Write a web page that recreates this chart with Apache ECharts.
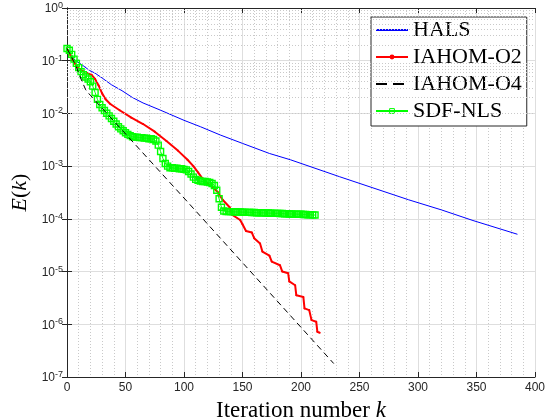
<!DOCTYPE html>
<html>
<head>
<meta charset="utf-8">
<script src="https://cdn.jsdelivr.net/npm/echarts@6/dist/echarts.min.js"></script>
<style>
html, body { margin: 0; padding: 0; background: #fff; }
#main { width: 554px; height: 419px; }
</style>
</head>
<body>
<div id="main"></div>
<script>
// values
var seriesNames = ['HALS', 'IAHOM-O2', 'IAHOM-O4', 'SDF-NLS'];

var halsIter = [0, 3, 7, 13, 19, 24, 30, 38, 47, 56, 65, 80, 100, 114, 131, 150, 173, 191, 233, 292, 320, 347, 385];
var halsErr = [0.17, 0.13, 0.102, 0.083, 0.066, 0.058, 0.047, 0.035, 0.027, 0.020, 0.0158, 0.0115, 0.0074, 0.0056, 0.0039, 0.0027, 0.00174, 0.00132, 6.3e-4, 2.3e-4, 1.48e-4, 9.3e-5, 5.1e-5];

var o2Iter = [0, 4, 8, 12, 16, 21, 24, 27, 30, 33, 37, 45, 55, 65, 75, 85, 95, 103, 108, 112, 116, 120, 125, 129, 133, 139, 141, 148, 150, 153, 158, 160, 165, 167, 173, 175, 182, 184, 189, 190, 195, 196, 202, 203, 207, 209, 213, 214, 216];
var o2Err = [0.17, 0.112, 0.079, 0.066, 0.060, 0.054, 0.045, 0.034, 0.024, 0.0186, 0.0151, 0.0115, 0.0083, 0.0063, 0.0045, 0.0030, 0.00195, 0.00132, 0.0010, 7.6e-4, 5.75e-4, 4.7e-4, 3.9e-4, 3.2e-4, 2.3e-4, 1.66e-4, 1.2e-4, 9.5e-5, 7.9e-5, 5.9e-5, 5.5e-5, 4.3e-5, 3.4e-5, 2.4e-5, 2.0e-5, 1.55e-5, 1.32e-5, 1.0e-5, 9.3e-6, 6.5e-6, 5.5e-6, 3.55e-6, 3.3e-6, 2.0e-6, 1.86e-6, 1.2e-6, 1.12e-6, 7.2e-7, 6.9e-7];

var o4Iter = [0, 4, 8, 12, 16, 20, 103, 228];
var o4Err = [0.17, 0.117, 0.076, 0.045, 0.028, 0.022, 2.1e-4, 1.8e-7];

var sdfIter = [0, 2, 4, 6, 8, 10, 12, 14, 16, 18, 20, 22, 24, 26, 28, 30, 32, 34, 36, 38,
  40, 42, 44, 46, 48, 50, 52, 54, 56, 58, 60, 62, 64, 66, 68, 70, 72, 74, 76, 78,
  80, 82, 84, 86, 88, 90, 92, 94, 96, 98, 100, 102, 104, 106, 108, 110, 112, 114, 116, 118,
  120, 122, 124, 126, 128, 130, 132, 134, 136, 138, 140, 142, 144, 146, 148, 150, 152, 154, 156, 158,
  160, 162, 164, 166, 168, 170, 172, 174, 176, 178, 180, 182, 184, 186, 188, 190, 192, 194, 196, 198,
  200, 202, 204, 206, 208, 210, 212];
var sdfErr = [0.17, 0.158, 0.132, 0.107, 0.089, 0.074, 0.062, 0.054, 0.049, 0.045,
  0.040, 0.033, 0.025, 0.0185, 0.0148, 0.0128, 0.0114, 0.0101, 0.0090, 0.0080,
  0.0071, 0.0063, 0.0056, 0.0051, 0.0047, 0.0043, 0.0040, 0.0038, 0.0036, 0.00355,
  0.00355, 0.00347, 0.00347, 0.0034, 0.0034, 0.0033, 0.0033, 0.0032, 0.0030, 0.0025,
  0.0019, 0.0014, 0.00112, 0.0010, 0.00093, 0.00093, 0.00091, 0.00091, 0.00089, 0.00089,
  0.00087, 0.00085, 0.00079, 0.00071, 0.00062, 0.00056, 0.00054, 0.00052, 0.00051, 0.00051,
  0.00050, 0.00049, 0.00047, 0.00043, 0.00035, 0.00024, 1.66e-4, 1.41e-4, 1.38e-4, 1.37e-4,
  1.37e-4, 1.36e-4, 1.36e-4, 1.35e-4, 1.35e-4, 1.34e-4, 1.34e-4, 1.33e-4, 1.33e-4, 1.32e-4,
  1.32e-4, 1.31e-4, 1.31e-4, 1.30e-4, 1.30e-4, 1.29e-4, 1.29e-4, 1.28e-4, 1.28e-4, 1.27e-4,
  1.27e-4, 1.26e-4, 1.26e-4, 1.25e-4, 1.25e-4, 1.24e-4, 1.24e-4, 1.23e-4, 1.23e-4, 1.22e-4,
  1.22e-4, 1.21e-4, 1.21e-4, 1.20e-4, 1.20e-4, 1.19e-4, 1.18e-4];

var xTicks = [0, 50, 100, 150, 200, 250, 300, 350, 400];
var yDecades = [-7, -6, -5, -4, -3, -2, -1, 0];

function zip(a, b) {
    return a.map(function (v, i) { return [v, b[i]]; });
}

// dotted minor grid of the log axis (2..9 in every decade)
var minorLines = [];
for (var d = yDecades[0]; d < yDecades[yDecades.length - 1]; d++) {
    for (var m = 2; m <= 9; m++) {
        minorLines.push({ yAxis: m * Math.pow(10, d) });
    }
}

var axisColor = '#262626';
var serif = '"Liberation Serif", "DejaVu Serif", serif';
var sans = '"Liberation Sans", Arial, Helvetica, sans-serif';
var noMarker = { opacity: 0, color: 'rgba(0,0,0,0)', borderWidth: 0 };

var myChart = echarts.init(document.getElementById('main'));

var option = {
    animation: false,
    backgroundColor: '#fff',
    grid: {
        left: 67, right: 19, top: 8, bottom: 42,
        outerBoundsMode: 'none'
    },
    legend: {
        data: [
            { name: seriesNames[0], itemStyle: noMarker },
            { name: seriesNames[1] },
            { name: seriesNames[2], itemStyle: noMarker, lineStyle: { type: [11, 6] } },
            { name: seriesNames[3], itemStyle: { borderWidth: 1 } }
        ],
        orient: 'vertical',
        left: 371,
        top: 17,
        padding: [2, 5, 4, 4],
        itemWidth: 32,
        itemHeight: 6,
        itemGap: 5,
        backgroundColor: '#fff',
        borderColor: axisColor,
        borderWidth: 1,
        borderRadius: 0,
        textStyle: { fontFamily: serif, fontSize: 22, color: '#000', lineHeight: 22 }
    },
    xAxis: [{
        type: 'value',
        min: xTicks[0],
        max: xTicks[xTicks.length - 1],
        interval: 50,
        name: '{r|Iteration number }{i|k}',
        nameLocation: 'middle',
        nameGap: 22,
        nameTextStyle: {
            rich: {
                r: { fontFamily: serif, fontSize: 23, color: '#000' },
                i: { fontFamily: serif, fontSize: 23, color: '#000', fontStyle: 'italic' }
            }
        },
        axisLine: { lineStyle: { color: axisColor, width: 1 } },
        axisTick: { inside: true, length: 5, lineStyle: { color: axisColor } },
        axisLabel: { margin: 5, color: axisColor, fontFamily: sans, fontSize: 12 },
        splitLine: { show: true, lineStyle: { color: '#dedede', width: 1 } },
        minorTick: { show: false, splitNumber: 5 },
        minorSplitLine: { show: true, lineStyle: { color: '#c9c9c9', type: [1, 2], width: 1 } }
    }, {
        type: 'value',
        position: 'top',
        min: xTicks[0],
        max: xTicks[xTicks.length - 1],
        interval: 50,
        axisLine: { show: true, lineStyle: { color: axisColor, width: 1 } },
        axisTick: { show: true, inside: true, length: 5, lineStyle: { color: axisColor } },
        axisLabel: { show: false },
        splitLine: { show: false }
    }],
    yAxis: [{
        type: 'log',
        logBase: 10,
        min: Math.pow(10, yDecades[0]),
        max: Math.pow(10, yDecades[yDecades.length - 1]),
        interval: 1,
        name: '{i|E}{r|(}{i|k}{r|)}',
        nameLocation: 'middle',
        nameGap: 34,
        nameRotate: 90,
        nameTextStyle: {
            rich: {
                r: { fontFamily: serif, fontSize: 22, color: '#000' },
                i: { fontFamily: serif, fontSize: 22, color: '#000', fontStyle: 'italic' }
            }
        },
        axisLine: { show: true, lineStyle: { color: axisColor, width: 1 } },
        axisTick: { show: true, inside: true, length: 5, lineStyle: { color: axisColor } },
        axisLabel: {
            margin: 4,
            formatter: function (v) {
                var e = Math.round(Math.log10(v));
                return '{b|10}{s|' + e + '}';
            },
            rich: {
                b: { fontFamily: sans, fontSize: 12, color: axisColor, verticalAlign: 'bottom', lineHeight: 14 },
                s: { fontFamily: sans, fontSize: 9, color: axisColor, verticalAlign: 'top', lineHeight: 9 }
            }
        },
        splitLine: { show: true, lineStyle: { color: '#dedede', width: 1 } }
    }, {
        type: 'log',
        logBase: 10,
        position: 'right',
        min: Math.pow(10, yDecades[0]),
        max: Math.pow(10, yDecades[yDecades.length - 1]),
        interval: 1,
        axisLine: { show: true, lineStyle: { color: axisColor, width: 1 } },
        axisTick: { show: true, inside: true, length: 5, lineStyle: { color: axisColor } },
        axisLabel: { show: false },
        splitLine: { show: false }
    }],
    series: [
        {
            name: 'minor-grid',
            type: 'line',
            z: 1,
            data: [],
            silent: true,
            markLine: {
                silent: true,
                symbol: ['none', 'none'],
                label: { show: false },
                lineStyle: { color: '#c9c9c9', type: [1, 2], width: 1 },
                data: minorLines
            }
        },
        {
            name: 'HALS',
            type: 'line',
            z: 3,
            data: zip(halsIter, halsErr),
            symbol: 'none',
            lineStyle: { color: '#0000ff', width: 1 },
            itemStyle: { color: '#0000ff' }
        },
        {
            name: 'IAHOM-O2',
            type: 'line',
            z: 4,
            data: zip(o2Iter, o2Err),
            symbol: 'circle',
            symbolSize: 2,
            lineStyle: { color: '#ff0000', width: 2 },
            itemStyle: { color: '#ff0000' }
        },
        {
            name: 'IAHOM-O4',
            type: 'line',
            z: 6,
            data: zip(o4Iter, o4Err),
            symbol: 'none',
            lineStyle: { color: '#000', width: 1, type: [6, 4] },
            itemStyle: { color: '#000' }
        },
        {
            name: 'SDF-NLS',
            type: 'line',
            z: 5,
            data: zip(sdfIter, sdfErr),
            symbol: 'rect',
            symbolSize: 6,
            lineStyle: { color: '#00ff00', width: 1 },
            itemStyle: { color: 'rgba(0,0,0,0)', borderColor: '#00ff00', borderWidth: 1.4 }
        }
    ]
};

myChart.setOption(option);
</script>
</body>
</html>
